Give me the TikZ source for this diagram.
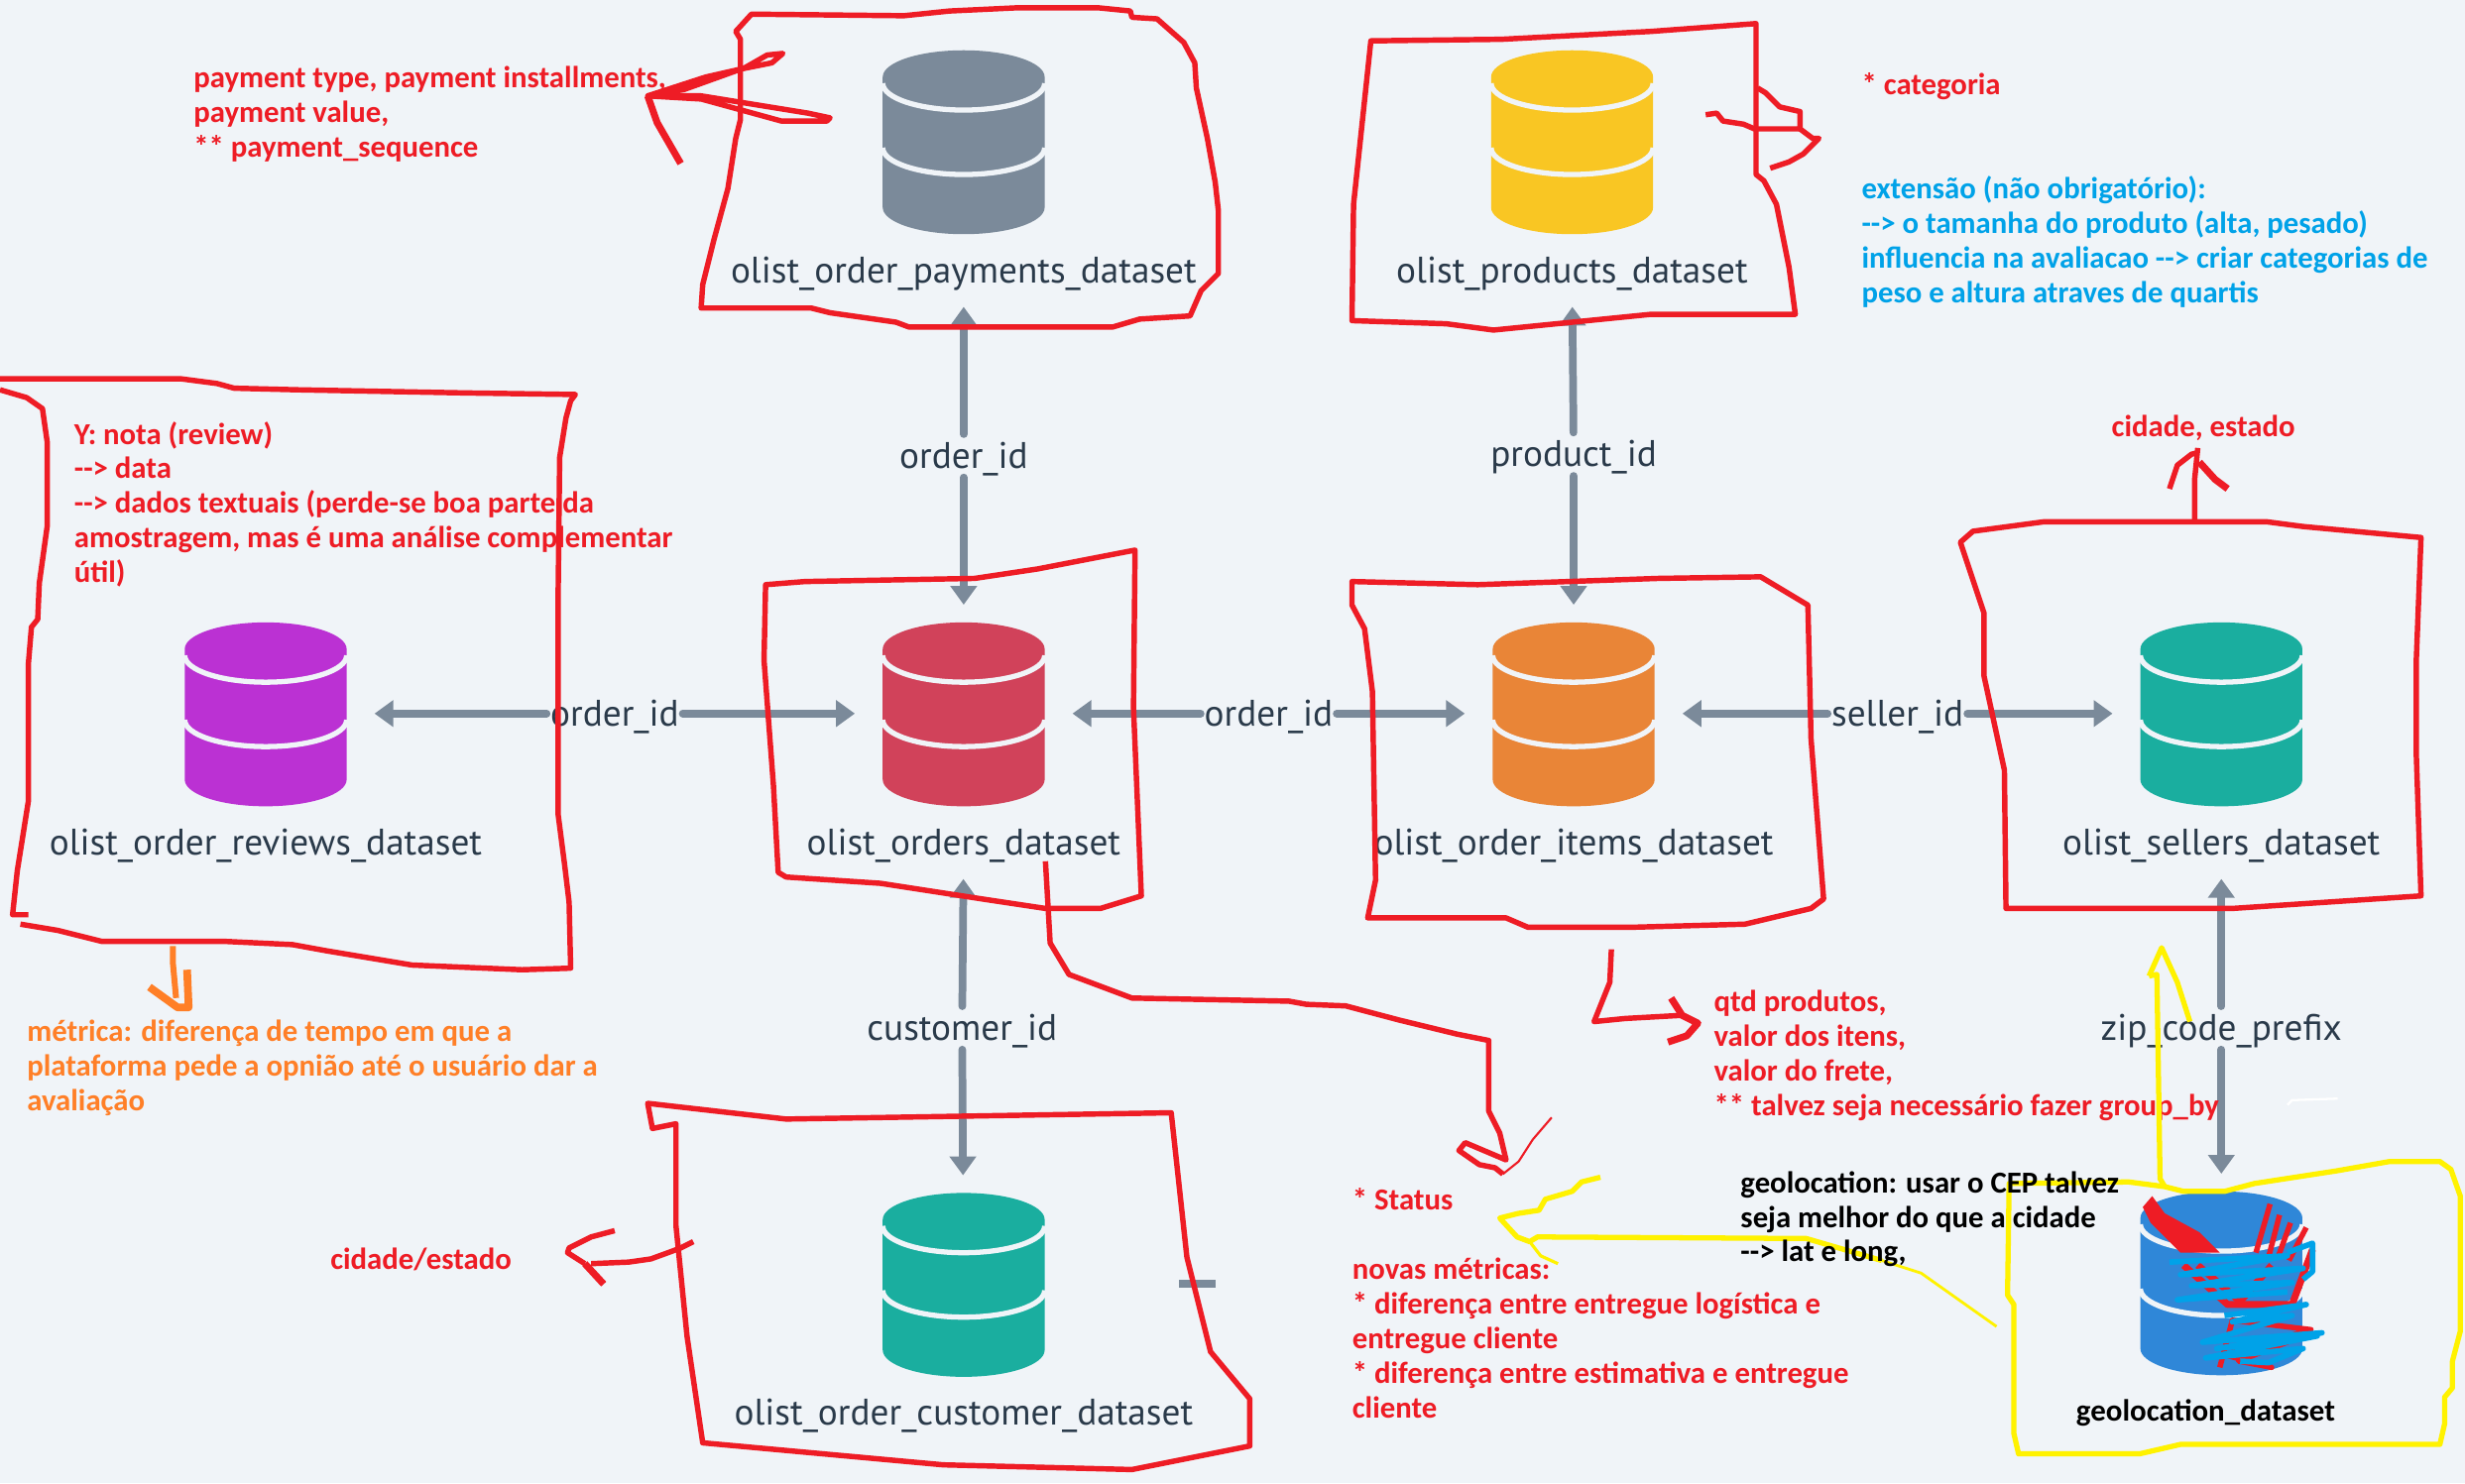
\documentclass[tikz,border=0pt]{standalone}
\usepackage{fontspec}
\setmainfont{Carlito}
\newfontfamily\dinfont{PT Sans}
\usetikzlibrary{arrows.meta}

\definecolor{bgc}{HTML}{F0F4F8}
\definecolor{linkc}{HTML}{7B8A9A}
\definecolor{textc}{HTML}{2A3A4A}
\definecolor{redc}{HTML}{EE1C25}
\definecolor{orangec}{HTML}{FF7F27}
\definecolor{bluec}{HTML}{00A2E8}
\definecolor{yellowc}{HTML}{FFF200}
\definecolor{dbgrey}{HTML}{7B8A9A}
\definecolor{dbyellow}{HTML}{F9C623}
\definecolor{dbpurple}{HTML}{BB31D3}
\definecolor{dbred}{HTML}{D1425A}
\definecolor{dborange}{HTML}{E98537}
\definecolor{dbteal}{HTML}{1AAE9F}
\definecolor{dbblue}{HTML}{2F87D8}

\tikzset{
  x=0.03171cm, y=-0.03171cm,
  dbbox/.style={minimum width=138*0.03171cm,minimum height=138*0.03171cm,inner sep=0pt},
  dblabel/.style={font=\dinfont\fontsize{21.2}{24}\selectfont,text=textc,minimum height=42*0.03171cm,inner sep=0pt},
  keylabel/.style={font=\dinfont\fontsize{21.2}{24}\selectfont,text=textc,inner sep=2pt,text height=17.5pt,text depth=3pt},
  link/.style={-{Triangle[width=0.52cm,length=0.38cm]},draw=linkc,line width=4.4pt,line cap=round},
  note/.style={font=\fontsize{17.5}{19.85}\selectfont\bfseries,anchor=north west,inner sep=0pt,align=left},
  pen/.style={draw=redc,line width=3.1pt,line join=round},
  fatpen/.style={draw=redc,line width=4pt,line join=round},
  thinpen/.style={draw=redc,line width=1.2pt,line join=round},
  ypen/.style={draw=yellowc,line width=3pt,line join=round},
  bpen/.style={draw=bluec,line width=3.2pt,line join=round},
}

% cylinder with its label under it
\newcommand{\dbnode}[5]{
  \fill[#4] (#2-51.5,#3-42) arc[start angle=180,end angle=0,x radius=1.633cm,y radius=0.539cm] --
    (#2+51.5,#3+41) arc[start angle=0,end angle=-180,x radius=1.633cm,y radius=0.539cm] -- cycle;
  \draw[bgc,line width=3pt] (#2-51.5,#3-38) arc[start angle=180,end angle=360,x radius=1.633cm,y radius=0.54cm];
  \draw[bgc,line width=3pt] (#2-51.5,#3+3) arc[start angle=180,end angle=360,x radius=1.633cm,y radius=0.54cm];
  \node[dbbox] (#1) at (#2,#3-1) {};
  \node[dblabel] (#1-lab) at (#2,#3+83) {#5};
}

\begin{document}
\begin{tikzpicture}
\fill[bgc] (0,0) rectangle (1568,943.6);
\useasboundingbox (0,0) rectangle (1568,943.6);

\dbnode{payments}{613}{91}{dbgrey}{olist\_order\_payments\_dataset}
\dbnode{products}{1000}{91}{dbyellow}{olist\_products\_dataset}
\dbnode{reviews}{169}{455}{dbpurple}{olist\_order\_reviews\_dataset}
\dbnode{orders}{613}{455}{dbred}{olist\_orders\_dataset}
\dbnode{items}{1001}{455}{dborange}{olist\_order\_items\_dataset}
\dbnode{sellers}{1413}{455}{dbteal}{olist\_sellers\_dataset}
\dbnode{customer}{613}{818}{dbteal}{olist\_order\_customer\_dataset}
\dbnode{geo}{1413}{817}{dbblue}{}
\node[font=\fontsize{17.6}{20}\selectfont\bfseries,text=black] (geolab) at (1403,899) {geolocation\_dataset};

\node[keylabel] (k1) at (613,290) {order\_id};
\node[keylabel] (k2) at (1001,289) {product\_id};
\node[keylabel] (k3) at (391,454) {order\_id};
\node[keylabel] (k4) at (807,454) {order\_id};
\node[keylabel] (k5) at (1207,454) {seller\_id};
\node[keylabel] (k6) at (612,654) {customer\_id};
\node[keylabel] (k7) at (1413,654) {zip\_code\_prefix};

\draw[link] (k1) -- (payments-lab);
\draw[link] (k1) -- (orders);
\draw[link] (k2) -- (products-lab);
\draw[link] (k2) -- (items);
\draw[link] (k3) -- (reviews);
\draw[link] (k3) -- (orders);
\draw[link] (k4) -- (orders);
\draw[link] (k4) -- (items);
\draw[link] (k5) -- (items);
\draw[link] (k5) -- (sellers);
\draw[link] (k6) -- (orders-lab);
\draw[link] (k6) -- (customer);
\draw[link] (k7) -- (sellers-lab);
\draw[link] (k7) -- (geo);
\draw[draw=linkc,line width=4.4pt] (750,817) -- (773,817);

% notes
\node[note,text=redc] (n1) at (123,42) {payment type, payment installments,\\payment value,\\** payment\_sequence};
\node[note,text=redc] (n2) at (1184,46) {* categoria};
\node[note,text=bluec] (n3) at (1184,112) {extensão (não obrigatório):\\-{}-{}> o tamanha do produto (alta, pesado)\\influencia na avaliacao -{}-{}> criar categorias de\\peso e altura atraves de quartis};
\node[note,text=redc] (n4) at (47,268) {Y: nota (review)\\-{}-{}> data\\-{}-{}> dados textuais (perde-se boa parte da\\amostragem, mas é uma análise complementar\\útil)};
\node[note,text=redc] (n5) at (1343,264) {cidade, estado};
\node[note,text=orangec] (n6) at (17,649) {métrica: diferença de tempo em que a\\plataforma pede a opnião até o usuário dar a\\avaliação};
\node[note,text=redc] (n7) at (1090,630) {qtd produtos,\\valor dos itens,\\valor do frete,\\** talvez seja necessário fazer group\_by};
\node[note,text=redc] (n8) at (210,794) {cidade/estado};
\node[note,text=redc] (n9) at (860,756) {* Status\\[\baselineskip]novas métricas:\\* diferença entre entregue logística e\\entregue cliente\\* diferença entre estimativa e entregue\\cliente};

% hand drawn boxes
\draw[pen] (478,9) -- (575,10) -- (604,7) -- (646,5) -- (699,5) -- (719,7) -- (720,11) -- (736,12) -- (753,27) -- (760,40) -- (761,56) -- (768,88) -- (773,116) -- (775,134) -- (775,174) -- (764,185) -- (757,201) -- (725,203) -- (708,208) -- (578,208) -- (570,205) -- (528,199) -- (516,196) -- (446,196) -- (447,181) -- (454,153) -- (463,120) -- (468,88) -- (471,76) -- (471,25) -- (468,20) -- cycle;
\draw[pen] (872,26) -- (955,25) -- (1050,20) -- (1117,15) -- (1117,111) -- (1122,115) -- (1130,130) -- (1138,170) -- (1142,200) -- (1050,200) -- (950,210) -- (920,206) -- (860,204) -- (861,130) -- cycle;
\draw[pen] (0,241) -- (115,241) -- (138,244) -- (149,247) -- (189,248) -- (296,250) -- (366,251) -- (363,255) -- (360,266) -- (356,291) -- (355,381) -- (355,518) -- (359,549) -- (362,574) -- (363,616) -- (332,617) -- (262,614) -- (208,605) -- (186,601) -- (144,599) -- (65,599) -- (37,592) -- (13,588);
\draw[pen] (18,582) -- (8,582) -- (11,554) -- (18,510) -- (18,423) -- (20,399) -- (24,394) -- (25,371) -- (30,335) -- (30,281) -- (27,260) -- (17,253) -- (0,248);
\draw[pen] (487,372) -- (512,370) -- (620,368) -- (660,362) -- (722,350) -- (721,450) -- (726,570) -- (700,578) -- (665,578) -- (625,572) -- (560,562) -- (500,558) -- (495,555) -- (492,500) -- (486,420) -- cycle;
\draw[pen] (860,370) -- (940,372) -- (1055,368) -- (1120,367) -- (1150,385) -- (1152,470) -- (1160,572) -- (1152,578) -- (1110,588) -- (1037,590) -- (972,590) -- (958,584) -- (870,584) -- (875,560) -- (873,440) -- (868,400) -- (860,385) -- cycle;
\draw[pen] (1247,345) -- (1255,338) -- (1300,332) -- (1442,332) -- (1465,335) -- (1540,342) -- (1537,420) -- (1537,480) -- (1540,570) -- (1420,578) -- (1276,578) -- (1275,490) -- (1262,430) -- (1262,390) -- cycle;
\draw[pen] (412,702) -- (415,718) -- (430,715) -- (430,780) -- (437,850) -- (447,918) -- (600,932) -- (720,935) -- (795,920) -- (795,890) -- (770,860) -- (755,800) -- (745,708) -- (500,712) -- cycle;

% hand drawn arrows
\draw[pen] (498,34) -- (488,35) -- (474,43) -- (435,57) -- (412,61) -- (449,49) -- (471,44) -- (491,40) -- cycle;
\draw[pen] (412,61) -- (446,61) -- (514,72) -- (528,75) -- (526,77) -- (497,77) -- (446,63) -- (412,61);
\draw[fatpen] (412,61) -- (418,78) -- (433,104);
\draw[pen] (1085,73) -- (1092,72) -- (1096,77) -- (1109,79) -- (1116,82) -- (1145,82) -- (1145,71) -- (1132,68) -- (1123,59) -- (1118,56);
\draw[pen] (1145,82) -- (1153,88) -- (1157,88) -- (1147,98) -- (1138,103) -- (1126,107);
\draw[pen] (1396,332) -- (1396,305) -- (1398,285);
\draw[pen] (1398,288) -- (1394,289) -- (1385,296) -- (1380,311);
\draw[fatpen] (1399,294) -- (1409,305) -- (1417,311);
\draw[draw=orangec,line width=3.4pt,line join=round] (110,602) -- (110,613) -- (112,635);
\draw[draw=orangec,line width=4.4pt,line join=round] (95,628) -- (113,641) -- (120,641) -- (119,617);
\draw[pen] (441,790) -- (433,794) -- (425,797) -- (414,801) -- (400,803) -- (376,804);
\draw[pen] (391,783) -- (376,787) -- (362,794) -- (361,797) -- (372,804);
\draw[fatpen] (372,804) -- (384,817);
\draw[pen] (665,548) -- (668,600) -- (680,620) -- (720,635) -- (820,637) -- (831,639) -- (856,640) -- (890,649) -- (927,658) -- (947,662) -- (947,707) -- (954,721) -- (958,738) -- (932,727) -- (928,732) -- (941,741) -- (951,743) -- (956,747);
\draw[thinpen] (956,747) -- (966,739) -- (975,725) -- (987,711);
\draw[pen] (1025,604) -- (1024,625) -- (1014,650) -- (1034,648) -- (1070,646);
\draw[fatpen] (1063,635) -- (1070,646) -- (1080,651) -- (1073,659) -- (1061,663);

% yellow marks
\draw[ypen] (1278,753) -- (1277,824) -- (1281,830) -- (1281,912) -- (1284,925) -- (1361,925) -- (1387,919) -- (1552,919) -- (1555,906) -- (1555,889) -- (1560,883) -- (1560,866) -- (1565,847) -- (1565,761) -- (1559,744) -- (1552,739) -- (1520,739) -- (1486,745) -- (1434,753) -- (1415,758) -- (1389,758) -- (1377,755) -- (1354,752) -- cycle;
\draw[ypen] (1377,755) -- (1374,750) -- (1372,620) -- (1367,621);
\draw[ypen] (1367,621) -- (1375,603) -- (1385,625) -- (1393,650);
\draw[ypen] (1197,802) -- (1149,788) -- (978,787) -- (973,790) -- (965,787) -- (954,775) -- (966,772) -- (979,770) -- (983,763) -- (1000,758) -- (1006,752) -- (1018,749);
\draw[draw=yellowc,line width=1.6pt] (1270,844) -- (1222,810) -- (1197,802);
\draw[draw=yellowc,line width=1.8pt] (973,790) -- (980,799) -- (991,804);
\draw[draw=white,line width=1.3pt] (1455,703) -- (1458,700) -- (1487,699);

% crossed out cylinder
\fill[redc] (1363,768) -- (1369,761) -- (1377,772) -- (1399,784) -- (1412,797) -- (1387,797) -- (1368,778) -- cycle;
\draw[pen] (1444,766) -- (1435,797);
\draw[pen] (1450,773) -- (1443,800);
\draw[pen] (1457,778) -- (1449,800);
\draw[pen] (1467,781) -- (1456,802);
\draw[fatpen] (1389,805) -- (1417,830) -- (1458,830) -- (1471,795);
\draw[fatpen] (1398,805) -- (1425,828) -- (1445,805);
\draw[pen] (1412,870) -- (1420,840) -- (1470,846) -- (1415,862) -- (1445,870) -- (1424,866) -- (1465,850);
\draw[bpen] (1380,803) -- (1455,799) -- (1387,811) -- (1465,807) -- (1394,818) -- (1458,816) -- (1385,827) -- (1455,822);
\draw[bpen] (1455,797) -- (1471,791) -- (1471,809) -- (1465,814);
\draw[bpen] (1415,837) -- (1467,830) -- (1420,841) -- (1458,837) -- (1401,854) -- (1477,848) -- (1410,858) -- (1474,850) -- (1403,864) -- (1465,858) -- (1443,867) -- (1425,866);

\node[note,text=black] (n10) at (1107,745) {geolocation: usar o CEP talvez\\seja melhor do que a cidade\\-{}-{}> lat e long,};

\end{tikzpicture}
\end{document}
